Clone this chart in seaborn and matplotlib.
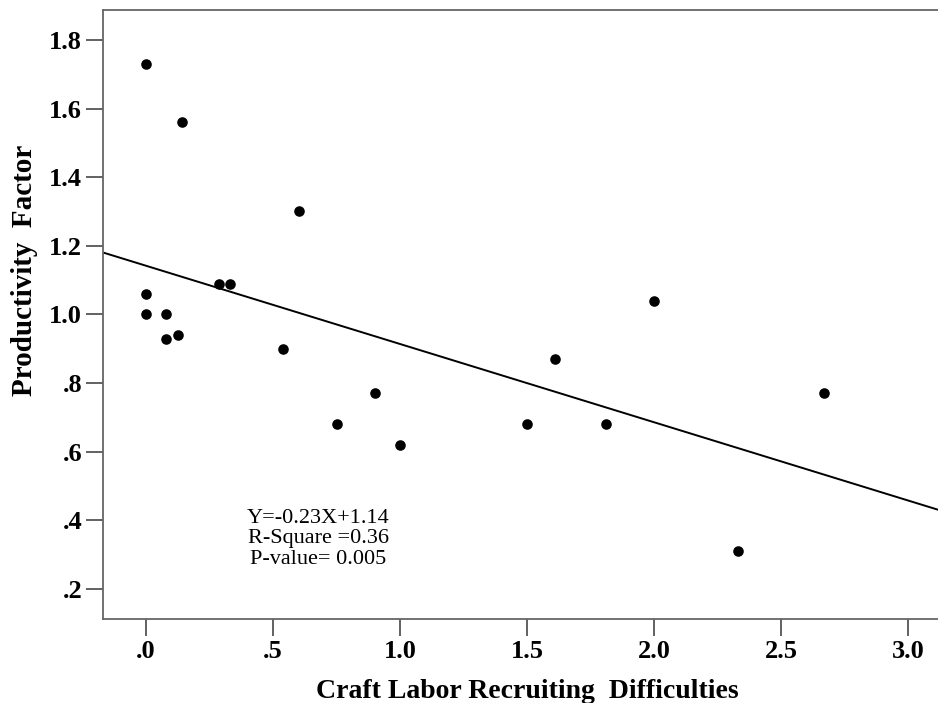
import matplotlib
matplotlib.use("Agg")
import matplotlib.pyplot as plt
import pandas as pd
import seaborn as sns

# values
recruiting = [0.0, 0.14, 0.60, 0.0, 0.0, 0.08, 0.08, 0.125, 0.285, 0.33,
              0.54, 0.75, 0.90, 1.00, 1.50, 1.61, 1.81, 2.00, 2.33, 2.67]
productivity = [1.73, 1.56, 1.30, 1.06, 1.00, 1.00, 0.93, 0.94, 1.09, 1.09,
                0.90, 0.68, 0.77, 0.62, 0.68, 0.87, 0.68, 1.04, 0.31, 0.77]

x_ticks = [0.0, 0.5, 1.0, 1.5, 2.0, 2.5, 3.0]
x_tick_labels = [".0", ".5", "1.0", "1.5", "2.0", "2.5", "3.0"]
y_ticks = [0.2, 0.4, 0.6, 0.8, 1.0, 1.2, 1.4, 1.6, 1.8]
y_tick_labels = [".2", ".4", ".6", ".8", "1.0", "1.2", "1.4", "1.6", "1.8"]

stats_text = "Y=-0.23X+1.14\nR-Square =0.36\nP-value= 0.005"

df = pd.DataFrame({"x": recruiting, "y": productivity})

sns.set_style("white")
plt.rcParams["font.family"] = ["Liberation Serif", "DejaVu Serif"]
plt.rcParams["text.color"] = "black"

fig = plt.figure(figsize=(9.38, 7.03), dpi=100)
ax = fig.add_axes([0.1098, 0.1195, 0.8902, 0.8663])
ax.set_xlim(-0.17, 3.118)
ax.set_ylim(0.113, 1.887)

sns.regplot(data=df, x="x", y="y", ax=ax, ci=None, truncate=False,
            scatter_kws=dict(s=58, color="black", linewidths=0, alpha=1),
            line_kws=dict(color="black", lw=1.4))

ax.set_xticks(x_ticks)
ax.set_xticklabels(x_tick_labels)
ax.set_yticks(y_ticks)
ax.set_yticklabels(y_tick_labels)
ax.tick_params(axis="both", direction="out", length=12, width=1.3,
               color="#555555", labelsize=19, pad=3, labelcolor="black",
               bottom=True, left=True)
for lab in ax.get_xticklabels() + ax.get_yticklabels():
    lab.set_fontweight("bold")

for side in ["left", "bottom", "top"]:
    ax.spines[side].set_color("#666666")
    ax.spines[side].set_linewidth(1.3)
ax.spines["right"].set_visible(False)

ax.set_xlabel("Craft Labor Recruiting  Difficulties", fontsize=20,
              fontweight="bold", color="black")
ax.set_ylabel("Productivity  Factor", fontsize=21, fontweight="bold",
              color="black")
ax.xaxis.set_label_coords(0.508, -0.098)
ax.yaxis.set_label_coords(-0.078, 0.573)

ax.text(0.677, 0.347, stats_text, ha="center", va="center", fontsize=16,
        linespacing=1.1)

fig.savefig("out.png", dpi=100)
